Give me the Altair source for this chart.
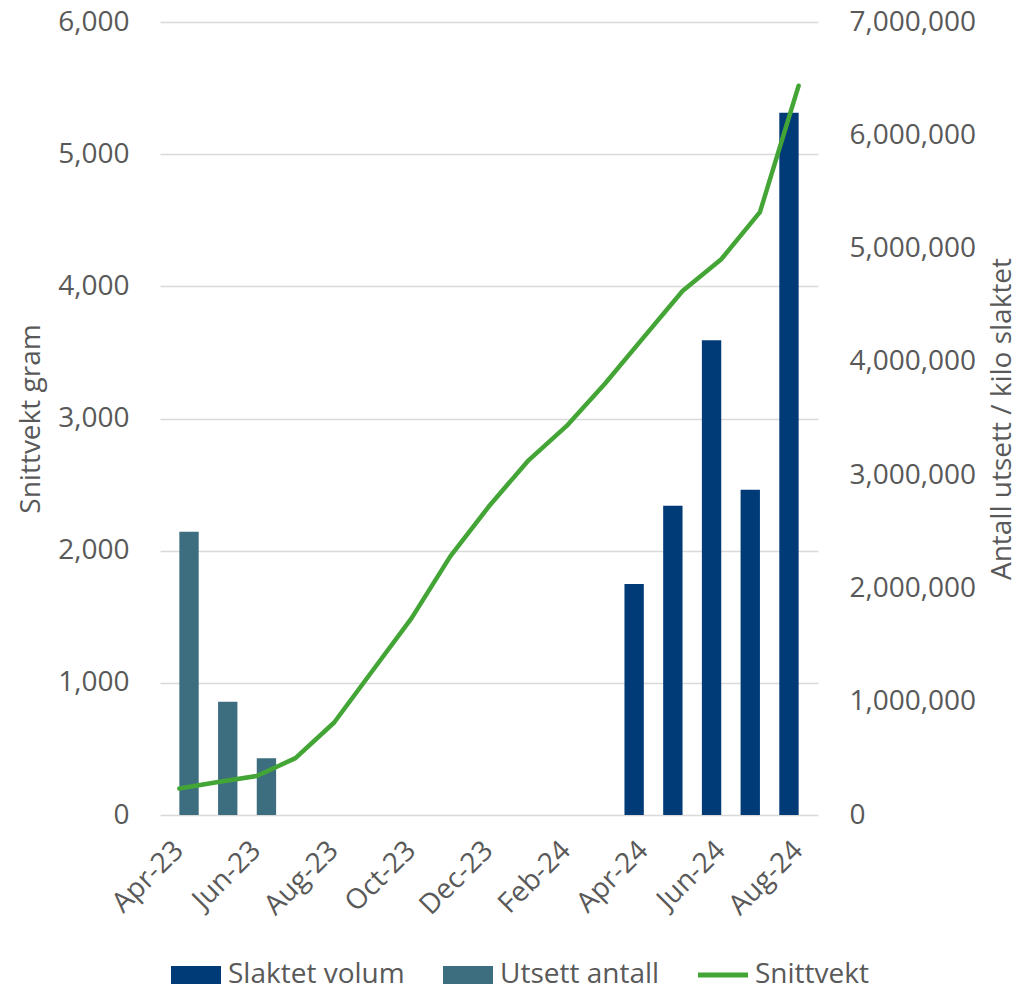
import altair as alt
import pandas as pd

months = ["Apr-23", "May-23", "Jun-23", "Jul-23", "Aug-23", "Sep-23", "Oct-23", "Nov-23",
          "Dec-23", "Jan-24", "Feb-24", "Mar-24", "Apr-24", "May-24", "Jun-24", "Jul-24", "Aug-24"]
snittvekt = [200, 250, 295, 430, 700, 1095, 1490, 1957, 2336, 2677, 2942, 3265, 3616, 3965, 4205, 4561, 5518]
utsett_antall = [2500000, 1000000, 500000, None, None, None, None, None, None, None, None, None,
                 None, None, None, None, None]
slaktet_volum = [None, None, None, None, None, None, None, None, None, None, None, None,
                 2040000, 2730000, 4190000, 2870000, 6200000]
x_label_months = ["Apr-23", "Jun-23", "Aug-23", "Oct-23", "Dec-23", "Feb-24", "Apr-24", "Jun-24", "Aug-24"]

series_names = ["Slaktet volum", "Utsett antall", "Snittvekt"]
series_colors = ["#003B78", "#3C6E7F", "#43A535"]
bar_series = ["Slaktet volum", "Utsett antall"]

rows = []
for m, v in zip(months, slaktet_volum):
    if v is not None:
        rows.append({"month": m, "series": "Slaktet volum", "value": v})
for m, v in zip(months, utsett_antall):
    if v is not None:
        rows.append({"month": m, "series": "Utsett antall", "value": v})
bars_df = pd.DataFrame(rows)
line_df = pd.DataFrame({"month": months, "snittvekt": snittvekt})
legend_df = pd.DataFrame({"series": series_names})

FONT = "Open Sans"
TXT = "#595959"
GRID = "#D9D9D9"
LBL = 28
TTL = 28

x_enc = alt.X("month:N", sort=months,
              scale=alt.Scale(domain=months, paddingInner=0, paddingOuter=0),
              axis=alt.Axis(title=None, values=x_label_months, labelAngle=315, domain=False,
                            ticks=False, grid=False, labelFontSize=LBL, labelColor=TXT,
                            labelFont=FONT, labelAlign="right", labelBaseline="middle",
                            labelPadding=31))

color_scale = alt.Scale(domain=series_names, range=series_colors)

rect_path = "M-1,-0.36H1V0.36H-1Z"
line_path = "M-1,-0.1H1V0.1H-1Z"
legend_props = dict(title=None, orient="none", legendX=11, legendY=928, direction="horizontal",
                    labelFontSize=LBL, labelColor=TXT, labelFont=FONT, labelLimit=400,
                    symbolSize=2500, symbolOpacity=1, symbolStrokeWidth=0,
                    labelOffset=7, columnPadding=38)

bars = alt.Chart(bars_df).mark_bar().encode(
    x=x_enc,
    xOffset=alt.XOffset("series:N", scale=alt.Scale(domain=bar_series, paddingInner=0, paddingOuter=0)),
    y=alt.Y("value:Q", scale=alt.Scale(domain=[0, 7000000], nice=False),
            axis=alt.Axis(orient="right", title="Antall utsett / kilo slaktet", format=",.0f",
                          values=[0, 1000000, 2000000, 3000000, 4000000, 5000000, 6000000, 7000000],
                          grid=False, domain=False, ticks=False, labelFontSize=LBL, labelColor=TXT,
                          labelFont=FONT, labelPadding=31, titleFontSize=TTL, titleColor=TXT,
                          titleFont=FONT, titleFontWeight="normal", titleAngle=270,
                          titleBaseline="top", titlePadding=13)),
    color=alt.Color("series:N", scale=color_scale, sort=series_names, legend=alt.Legend(**legend_props)),
)

line = alt.Chart(line_df).mark_line(strokeWidth=4.5, strokeCap="round", strokeJoin="round",
                                    color="#43A535").encode(
    x=alt.X("month:N", sort=months),
    y=alt.Y("snittvekt:Q", scale=alt.Scale(domain=[0, 6000], nice=False),
            axis=alt.Axis(orient="left", title="Snittvekt gram", format=",.0f",
                          values=[0, 1000, 2000, 3000, 4000, 5000, 6000],
                          grid=True, gridColor=GRID, gridWidth=1.5, domain=False, ticks=False,
                          labelFontSize=LBL, labelColor=TXT, labelFont=FONT, labelPadding=31,
                          titleFontSize=TTL, titleColor=TXT, titleFont=FONT,
                          titleFontWeight="normal", titlePadding=12)),
)

legend_layer = alt.Chart(legend_df).mark_point(filled=True, opacity=0).encode(
    color=alt.Color("series:N", scale=color_scale, sort=series_names, legend=alt.Legend(**legend_props)),
    shape=alt.Shape("series:N", sort=series_names,
                    scale=alt.Scale(domain=series_names, range=[rect_path, rect_path, line_path]),
                    legend=alt.Legend(**legend_props)),
)

chart = alt.layer(bars, line, legend_layer).resolve_scale(y="independent").properties(
    width=658, height=793,
    autosize=alt.AutoSizeParams(type="none"),
    padding={"left": 152, "top": 14, "right": 200, "bottom": 174},
).configure_view(stroke=None)

chart.save("out.html", embed_options={"renderer": "svg", "actions": False})
